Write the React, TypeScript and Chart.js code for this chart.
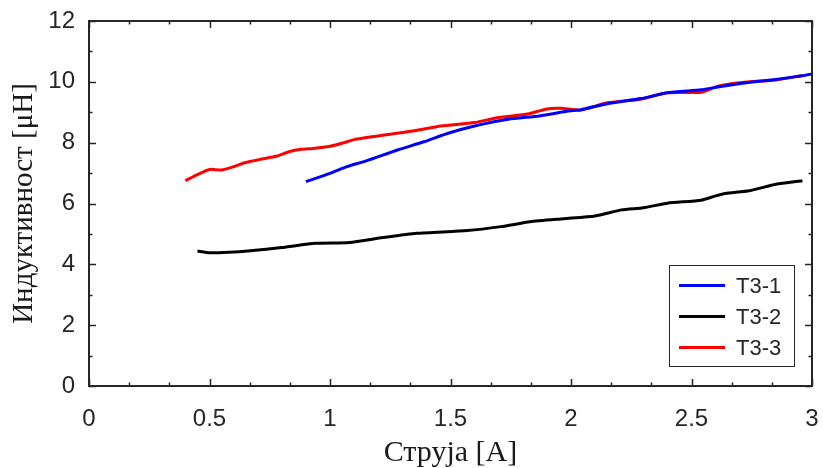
import React, { useEffect, useRef } from "react";
import { Chart, registerables } from "chart.js";

Chart.register(...registerables);

const seriesLabels = ["T3-1", "T3-2", "T3-3"];
const seriesColors = ["#0000FF", "#000000", "#FF0000"];

const t31X = [0.90, 1.00, 1.07, 1.15, 1.28, 1.39, 1.49, 1.60, 1.74, 1.87, 1.99, 2.04, 2.15, 2.29, 2.40, 2.54, 2.61, 2.71, 2.85, 2.96, 3.00];
const t31Y = [6.72, 6.99, 7.21, 7.40, 7.76, 8.03, 8.31, 8.55, 8.77, 8.88, 9.04, 9.08, 9.28, 9.45, 9.64, 9.74, 9.83, 9.95, 10.08, 10.20, 10.26];

const t32X = [0.45, 0.50, 0.58, 0.67, 0.80, 0.94, 1.08, 1.22, 1.36, 1.57, 1.71, 1.83, 1.97, 2.10, 2.21, 2.30, 2.40, 2.54, 2.60, 2.64, 2.74, 2.85, 2.96];
const t32Y = [4.44, 4.38, 4.40, 4.45, 4.55, 4.69, 4.72, 4.88, 5.02, 5.11, 5.24, 5.40, 5.50, 5.59, 5.79, 5.86, 6.01, 6.11, 6.25, 6.33, 6.42, 6.63, 6.75];

const t33X = [0.40, 0.45, 0.50, 0.55, 0.60, 0.65, 0.71, 0.78, 0.83, 0.88, 0.93, 1.00, 1.05, 1.10, 1.20, 1.35, 1.46, 1.60, 1.70, 1.82, 1.90, 1.96, 2.04, 2.15, 2.29, 2.40, 2.54, 2.61, 2.71, 2.85, 2.96];
const t33Y = [6.75, 6.95, 7.12, 7.10, 7.21, 7.35, 7.45, 7.56, 7.70, 7.78, 7.81, 7.88, 7.98, 8.10, 8.22, 8.39, 8.55, 8.66, 8.83, 8.94, 9.11, 9.13, 9.07, 9.31, 9.43, 9.64, 9.66, 9.86, 9.98, 10.06, 10.21];

const xMin = 0, xMax = 3, xStep = 0.5, xMinorPerMajor = 3;
const yMin = 0, yMax = 12, yStep = 2, yMinorPerMajor = 2;

const xTitle = "Струја [A]";
const yTitle = "Индуктивност [μH]";

const axisColor = "#262626";
const tickFont = { family: "'Liberation Sans', Arial, sans-serif", size: 24 };

const toPoints = (xs: number[], ys: number[]) => xs.map((x, i) => ({ x, y: ys[i] }));

const boxPlugin = {
  id: "matlabBox",
  afterDatasetsDraw(chart: any) {
    const { ctx, chartArea, scales } = chart;
    const { left, right, top, bottom } = chartArea;
    ctx.save();
    ctx.strokeStyle = axisColor;
    ctx.lineWidth = 1.5;
    ctx.beginPath();
    const xN = Math.round((xMax - xMin) / xStep) * xMinorPerMajor;
    for (let k = 0; k <= xN; k++) {
      const v = xMin + (k * xStep) / xMinorPerMajor;
      const px = Math.round(scales.x.getPixelForValue(v)) + 0.5;
      const len = k % xMinorPerMajor === 0 ? 7 : 3.5;
      ctx.moveTo(px, bottom);
      ctx.lineTo(px, bottom - len);
      ctx.moveTo(px, top);
      ctx.lineTo(px, top + len);
    }
    const yN = Math.round((yMax - yMin) / yStep) * yMinorPerMajor;
    for (let k = 0; k <= yN; k++) {
      const v = yMin + (k * yStep) / yMinorPerMajor;
      const py = Math.round(scales.y.getPixelForValue(v)) + 0.5;
      const len = k % yMinorPerMajor === 0 ? 7 : 3.5;
      ctx.moveTo(left, py);
      ctx.lineTo(left + len, py);
      ctx.moveTo(right, py);
      ctx.lineTo(right - len, py);
    }
    ctx.stroke();
    ctx.lineWidth = 2;
    ctx.strokeRect(left, top, right - left, bottom - top);

    // legend box (lower right, inside plot)
    const bw = 125, bh = 101;
    const bx = right - 18 - bw;
    const by = bottom - 20 - bh;
    ctx.fillStyle = "#ffffff";
    ctx.fillRect(bx, by, bw, bh);
    ctx.lineWidth = 1;
    ctx.strokeStyle = axisColor;
    ctx.strokeRect(bx + 0.5, by + 0.5, bw, bh);
    ctx.font = "22px 'Liberation Sans', Arial, sans-serif";
    ctx.textBaseline = "middle";
    ctx.textAlign = "left";
    chart.data.datasets.forEach((ds: any, i: number) => {
      const cy = by + 20.5 + i * 31;
      ctx.strokeStyle = ds.borderColor;
      ctx.lineWidth = 3;
      ctx.beginPath();
      ctx.moveTo(bx + 10, cy);
      ctx.lineTo(bx + 56, cy);
      ctx.stroke();
      ctx.fillStyle = axisColor;
      ctx.fillText(ds.label, bx + 67, cy + 1);
    });
    ctx.restore();
  },
};

export default function App() {
  const ref = useRef<HTMLCanvasElement | null>(null);
  useEffect(() => {
    document.body.style.margin = "0";
    const canvas = ref.current!;
    const xsList = [t31X, t32X, t33X];
    const ysList = [t31Y, t32Y, t33Y];
    const chart = new Chart(canvas, {
      type: "scatter",
      data: {
        datasets: seriesLabels.map((label, i) => ({
          label,
          data: toPoints(xsList[i], ysList[i]),
          showLine: true,
          borderColor: seriesColors[i],
          backgroundColor: seriesColors[i],
          borderWidth: 3,
          pointRadius: 0,
          tension: 0.2,
        })),
      },
      options: {
        responsive: false,
        animation: false,
        layout: { padding: { top: 21, right: 11, left: 0, bottom: 0 } },
        plugins: { legend: { display: false }, tooltip: { enabled: false } },
        scales: {
          x: {
            type: "linear",
            min: xMin,
            max: xMax,
            afterFit: (s: any) => { s.height = 82; s.paddingLeft = 0; s.paddingRight = 0; },
            ticks: { stepSize: xStep, color: axisColor, padding: 19, font: tickFont, maxRotation: 0, callback: (v: any) => String(v) },
            grid: { display: false, drawTicks: false },
            border: { display: false },
            title: { display: true, text: xTitle, color: "#1a1a1a", padding: { top: 0, bottom: 0 }, font: { family: "'Liberation Serif', serif", size: 30, lineHeight: 1.0 } },
          },
          y: {
            type: "linear",
            min: yMin,
            max: yMax,
            afterFit: (s: any) => { s.width = 89; s.paddingTop = 0; s.paddingBottom = 0; },
            ticks: { stepSize: yStep, color: axisColor, padding: 14, font: tickFont, callback: (v: any) => String(v) },
            grid: { display: false, drawTicks: false },
            border: { display: false },
            title: { display: true, text: yTitle, color: "#1a1a1a", padding: { top: 10, bottom: 0 }, font: { family: "'Liberation Serif', serif", size: 29, lineHeight: 1.0 } },
          },
        },
      },
      plugins: [boxPlugin],
    });
    return () => chart.destroy();
  }, []);
  return <canvas ref={ref} width={823} height={468} style={{ display: "block" }} />;
}
